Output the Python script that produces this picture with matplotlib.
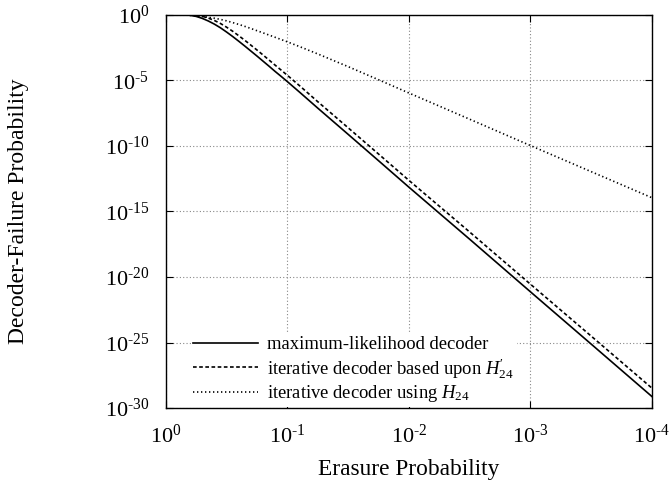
import numpy as np
import matplotlib
matplotlib.use("Agg")
import matplotlib.pyplot as plt

plt.rcParams['font.family'] = ['Liberation Serif', 'DejaVu Serif']
plt.rcParams['mathtext.fontset'] = 'custom'
plt.rcParams['mathtext.rm'] = 'Liberation Serif'
plt.rcParams['mathtext.it'] = 'Liberation Serif:italic'

# log10 of erasure probability where curves were read
log_p = [0.0, -0.05, -0.1, -0.15, -0.2, -0.25, -0.3, -0.35, -0.4, -0.45,
         -0.5, -0.55, -0.6, -0.65, -0.7, -0.75, -0.8, -0.85, -0.9, -0.95,
         -1.0, -1.1, -1.25, -1.5, -1.75, -2.0, -2.5, -3.0, -3.5, -4.0]
# log10 of decoder-failure probability
ml_log = [0.0, -0.0002, -0.002, -0.007, -0.045, -0.13, -0.28, -0.48, -0.72, -1.0,
          -1.32, -1.66, -2.02, -2.39, -2.77, -3.15, -3.54, -3.93, -4.33, -4.71,
          -5.1, -5.9, -7.12, -9.12, -11.13, -13.15, -17.12, -21.13, -25.12, -29.12]
iter_hp_log = [0.0, 0.0, -0.001, -0.004, -0.02, -0.05, -0.12, -0.26, -0.44, -0.67,
               -0.95, -1.26, -1.6, -1.95, -2.32, -2.69, -3.07, -3.46, -3.85, -4.23,
               -4.62, -5.41, -6.63, -8.62, -10.62, -12.63, -16.57, -20.55, -24.51, -28.48]
iter_h_log = [0.0, -0.002, -0.01, -0.025, -0.05, -0.09, -0.14, -0.2, -0.27, -0.36,
              -0.47, -0.6, -0.74, -0.89, -1.05, -1.22, -1.385, -1.555, -1.725, -1.895,
              -2.07, -2.43, -2.99, -3.96, -4.96, -5.97, -7.97, -9.98, -11.97, -13.96]

labels = ['maximum-likelihood decoder',
          r"iterative decoder based upon $H^{\prime}_{24}$",
          r"iterative decoder using $H_{24}$"]

x_ticks = [1, 1e-1, 1e-2, 1e-3, 1e-4]
x_ticklabels = [r'$10^{0}$', r'$10^{\text{-}1}$', r'$10^{\text{-}2}$', r'$10^{\text{-}3}$', r'$10^{\text{-}4}$']
y_ticks = [1, 1e-5, 1e-10, 1e-15, 1e-20, 1e-25, 1e-30]
y_ticklabels = [r'$10^{0}$', r'$10^{\text{-}5}$', r'$10^{\text{-}10}$', r'$10^{\text{-}15}$',
                r'$10^{\text{-}20}$', r'$10^{\text{-}25}$', r'$10^{\text{-}30}$']

p = 10.0 ** np.array(log_p)

fig = plt.figure(figsize=(6.71, 4.83), dpi=100)
ax = fig.add_axes([0.247, 0.155, 0.9717 - 0.247, 0.9696 - 0.155])

ax.plot(p, 10.0 ** np.array(ml_log), color='black', lw=1.2, ls='-', label=labels[0])
ax.plot(p, 10.0 ** np.array(iter_hp_log), color='black', lw=1.2, ls=(0, (2.2, 1.5)), label=labels[1])
ax.plot(p, 10.0 ** np.array(iter_h_log), color='black', lw=1.2, ls=(0, (0.8, 1.6)), label=labels[2])

ax.set_xscale('log')
ax.set_yscale('log')
ax.set_xlim(1, 1e-4)
ax.set_ylim(1e-30, 1)
ax.set_xticks(x_ticks)
ax.set_xticklabels(x_ticklabels)
ax.set_yticks(y_ticks)
ax.set_yticklabels(y_ticklabels)
ax.minorticks_off()
ax.tick_params(which='both', direction='in', top=True, right=True, length=5, width=0.8,
               labelsize=16, pad=12)
ax.tick_params(axis='x', pad=12)
for s in ax.spines.values():
    s.set_linewidth(1.0)
    s.set_zorder(6)

ax.grid(True, which='major', color='#888888', ls=(0, (1, 2)), lw=0.8)
ax.set_axisbelow(True)

ax.set_xlabel('Erasure Probability', fontsize=16.8, labelpad=8)
ax.set_ylabel('Decoder-Failure Probability', fontsize=17)
ax.yaxis.label.set_verticalalignment('center')
ax.yaxis.set_label_coords(-0.302, 0.5)

leg = ax.legend(loc='lower left', bbox_to_anchor=(0.032, -0.021), fontsize=13.4,
                frameon=True, fancybox=False, edgecolor='none', facecolor='white',
                framealpha=1.0, handlelength=3.45, handletextpad=0.52,
                labelspacing=0.15, borderpad=0.15)
leg.set_zorder(5)

fig.savefig('out.png', dpi=100)
